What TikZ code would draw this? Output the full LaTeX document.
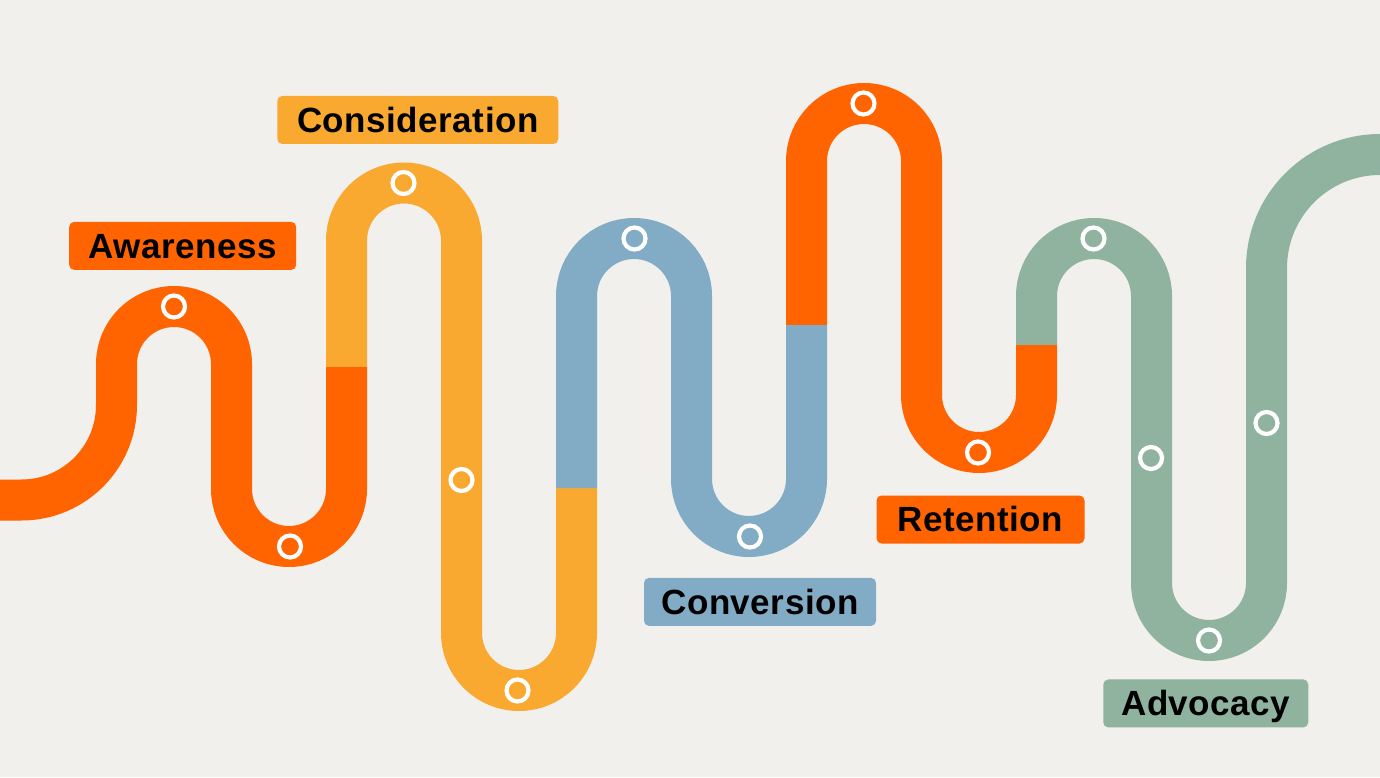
\documentclass[tikz,border=0pt]{standalone}
\usepackage{fontspec}
\setmainfont{Liberation Sans}
\newfontfamily\labelfont[LetterSpace=1.5]{Liberation Sans}
\definecolor{bgc}{RGB}{241,240,236}
\definecolor{orangec}{RGB}{255,100,0}
\definecolor{yellowc}{RGB}{249,169,48}
\definecolor{bluec}{RGB}{130,171,198}
\definecolor{greenc}{RGB}{143,179,158}
\tikzset{
  road/.style={line width=41pt, line cap=butt, line join=round},
  ring/.style={draw=white, line width=4.2pt, fill=none},
  stage/.style={rounded corners=5pt, inner sep=0pt, minimum height=48pt,
    text height=24.5pt, text depth=0pt, align=center,
    font=\labelfont\fontsize{35}{40}\selectfont\bfseries, text=black},
}
\begin{document}
\begin{tikzpicture}[x=1pt,y=1pt]
\fill[bgc] (0,0) rectangle (1380,777);
\useasboundingbox (0,0) rectangle (1380,777);
% road segments
\draw[road, orangec] (-5,277) -- (21.5,277) arc (270:360:95) -- (116.5,413) arc (180:0:57.5) -- (231.5,288) arc (180:360:57.5) -- (346.5,410.5);
\draw[road, yellowc] (346.5,410) -- (346.5,536.5) arc (180:0:57.5) -- (461.5,144) arc (180:360:57.5) -- (576.5,289.5);
\draw[road, bluec] (576.5,289) -- (576.5,481) arc (180:0:57.5) -- (691.5,298) arc (180:360:57.5) -- (806.5,452.5);
\draw[road, orangec] (806.5,452) -- (806.5,616) arc (180:0:57.5) -- (921.5,382) arc (180:360:57.5) -- (1036.5,432.5);
\draw[road, greenc] (1036.5,432) -- (1036.5,481) arc (180:0:57.5) -- (1151.5,194) arc (180:360:57.5) -- (1266.5,509) arc (180:90:113.5) -- (1385,622.5);
% markers
\foreach \n/\p in {m1/{(174,470.5)}, m2/{(290,230.5)}, m3/{(403.5,594)}, m4/{(461.5,297)}, m5/{(517.5,86.5)}, m6/{(634.5,538.5)}, m7/{(750,240.5)}, m8/{(863.5,673.5)}, m9/{(978,324.5)}, m10/{(1093.5,538.5)}, m11/{(1151,319)}, m12/{(1209,136.5)}, m13/{(1266.5,354)}}
  \node[ring, circle, minimum size=22pt, inner sep=0pt] (\n) at \p {};
% labels
\node[stage, fill=orangec, minimum width=227pt] (awareness) at (182.7,531.1) {Awareness};
\node[stage, fill=yellowc, minimum width=281pt] (consideration) at (417.8,657) {Consideration};
\node[stage, fill=bluec, minimum width=232pt] (conversion) at (760,175.1) {Conversion};
\node[stage, fill=orangec, minimum width=208pt] (retention) at (980.5,257.5) {Retention};
\node[stage, fill=greenc, minimum width=205pt] (advocacy) at (1205.8,73.6) {Advocacy};
\end{tikzpicture}
\end{document}
